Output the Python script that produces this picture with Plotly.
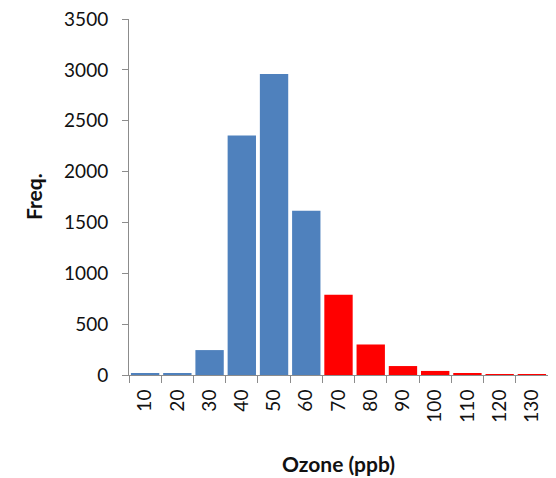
from plotly import graph_objects as go

bins = ['10', '20', '30', '40', '50', '60', '70', '80', '90', '100', '110', '120', '130']
freq = [15, 15, 245, 2355, 2960, 1615, 790, 300, 88, 40, 15, 4, 2]
colors = ['#4f81bd'] * 6 + ['#ff0000'] * 7

axis_font = dict(family='Lato', size=19, color='#111111')
title_font = dict(family='Lato', size=21, color='#111111')

fig = go.Figure(go.Bar(
    x=bins,
    y=freq,
    marker=dict(color=colors, line=dict(width=0)),
))

# page body has an 8px margin, so the figure is a bit smaller than the window
fig.update_layout(
    width=548, height=470,
    margin=dict(l=121, r=8, t=11, b=103),
    paper_bgcolor='white',
    plot_bgcolor='white',
    bargap=0.12,
    showlegend=False,
)

fig.update_xaxes(
    type='category',
    automargin=False,
    tickangle=-90,
    tickfont=axis_font,
    ticks='outside', ticklen=7, tickcolor='#8c8c8c',
    tickson='boundaries',
    ticklabelstandoff=6,
    showline=True, linecolor='#8c8c8c', linewidth=1,
    showgrid=False,
)

fig.update_yaxes(
    range=[0, 3500],
    dtick=500,
    automargin=False,
    tickfont=axis_font,
    ticks='outside', ticklen=6, tickcolor='#8c8c8c',
    ticklabelstandoff=10,
    ticklabeloverflow='allow',
    showline=True, linecolor='#8c8c8c', linewidth=1,
    showgrid=False, zeroline=False,
)

# axis titles placed as annotations to match the original spacing
fig.add_annotation(text='<b>Ozone (ppb)</b>', font=title_font, showarrow=False,
                   xref='paper', yref='paper', x=0.5, y=0, yanchor='middle', yshift=-88)
fig.add_annotation(text='<b>Freq.</b>', font=title_font, showarrow=False, textangle=-90,
                   xref='paper', yref='paper', x=0, y=0.5, xanchor='center', xshift=-96)

fig.write_html("out.html")
